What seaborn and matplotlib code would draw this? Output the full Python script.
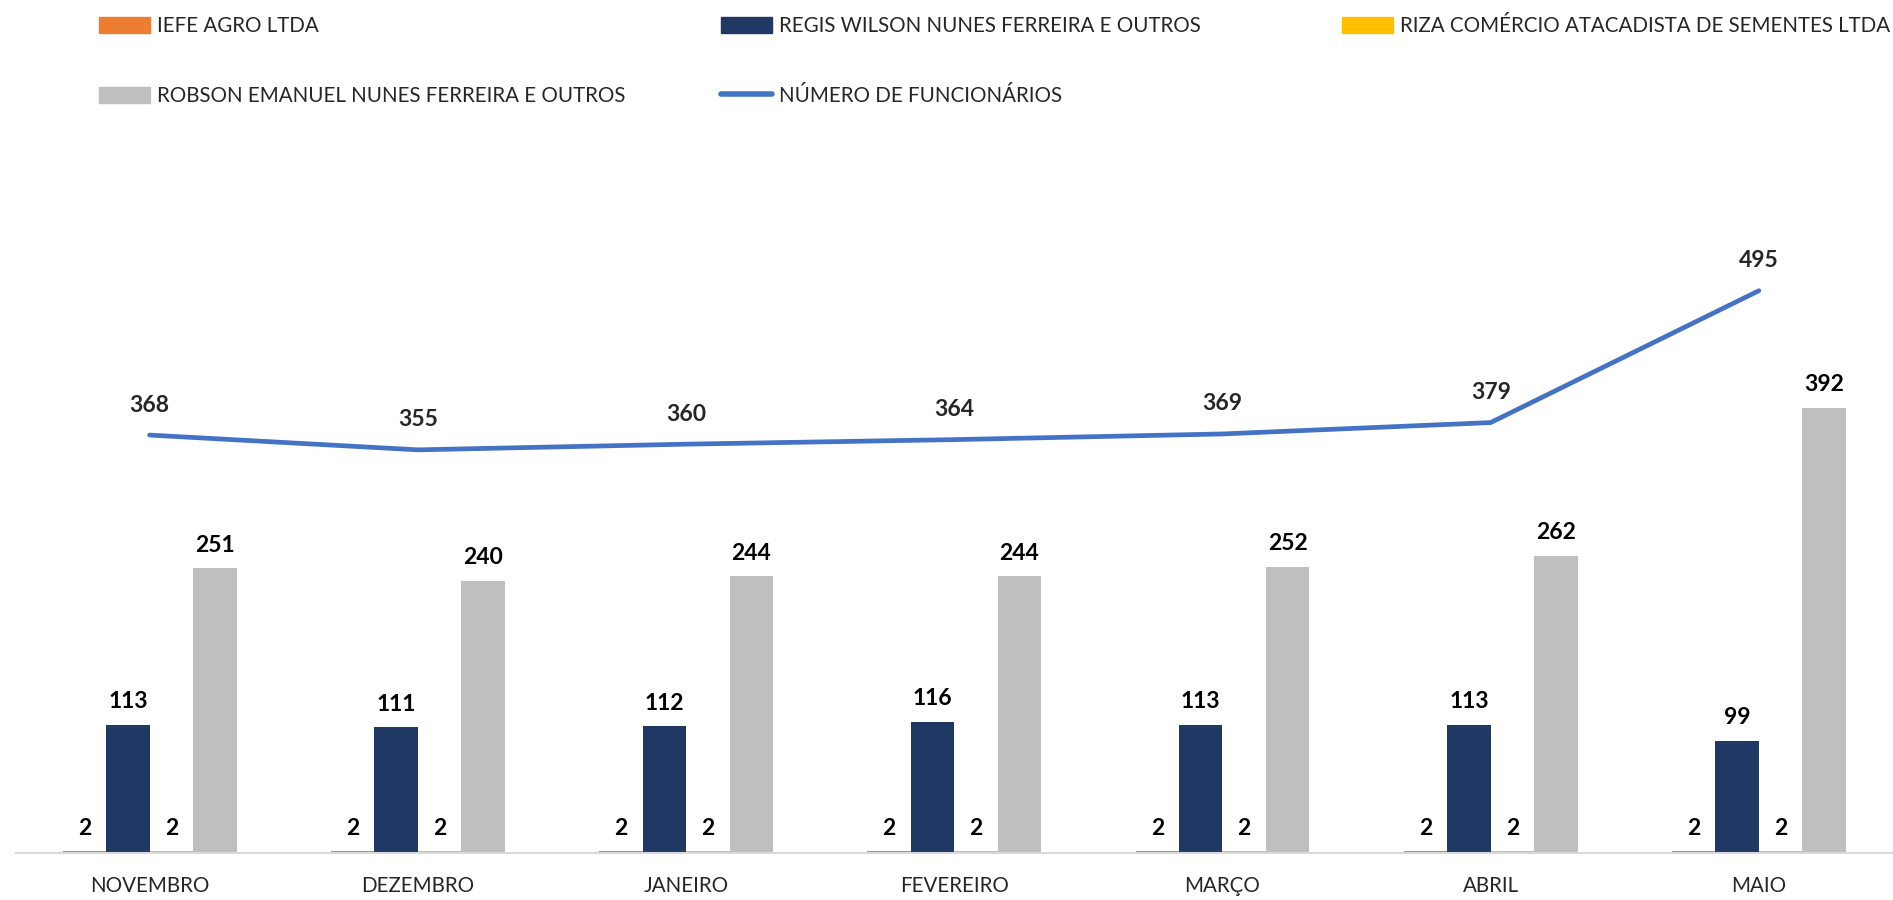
import numpy as np
import pandas as pd
import matplotlib
matplotlib.use("Agg")
import matplotlib.pyplot as plt
from matplotlib.patches import Patch
from matplotlib.lines import Line2D
import seaborn as sns

meses = ["NOVEMBRO", "DEZEMBRO", "JANEIRO", "FEVEREIRO", "MARÇO", "ABRIL", "MAIO"]
empresas = [
    "IEFE AGRO LTDA",
    "REGIS WILSON NUNES FERREIRA E OUTROS",
    "RIZA COMÉRCIO ATACADISTA DE SEMENTES LTDA",
    "ROBSON EMANUEL NUNES FERREIRA E OUTROS",
]
iefe = [2, 2, 2, 2, 2, 2, 2]
regis = [113, 111, 112, 116, 113, 113, 99]
riza = [2, 2, 2, 2, 2, 2, 2]
robson = [251, 240, 244, 244, 252, 262, 392]
funcionarios = [368, 355, 360, 364, 369, 379, 495]
linha_label = "NÚMERO DE FUNCIONÁRIOS"

cores = ["#ED7D31", "#203864", "#FFC000", "#BFBFBF"]
cor_linha = "#4472C4"

sns.set_theme(style="white")
plt.rcParams["font.family"] = ["Lato", "DejaVu Sans"]

df = pd.DataFrame({
    "mes": meses * 4,
    "empresa": np.repeat(empresas, len(meses)),
    "valor": iefe + regis + riza + robson,
})

fig = plt.figure(figsize=(18.93, 9), dpi=100)
ax = fig.add_axes([0.0082, 0.0518, 0.9918, 0.7578])

sns.barplot(data=df, x="mes", y="valor", hue="empresa", order=meses,
            hue_order=empresas, palette=cores, width=0.648, gap=0,
            linewidth=0, saturation=1, legend=False, ax=ax)

for cont in ax.containers:
    ax.bar_label(cont, padding=9, fontsize=16.5, fontweight="bold", color="black")

pos = np.arange(len(meses))
sns.lineplot(x=pos, y=funcionarios, color=cor_linha, linewidth=3.4,
             solid_capstyle="round", ax=ax)
for x, v in zip(pos, funcionarios):
    ax.annotate(str(v), (x, v), xytext=(0, 14), textcoords="offset points",
                ha="center", va="bottom", fontsize=16.5, fontweight="bold")

ax.set_xlim(-0.5, len(meses) - 0.5)
ax.set_ylim(0, 600)
ax.set_xlabel("")
ax.set_ylabel("")
ax.set_yticks([])
for s in ["left", "top", "right"]:
    ax.spines[s].set_visible(False)
ax.spines["bottom"].set_color("#D9D9D9")
ax.spines["bottom"].set_linewidth(1.5)
ax.set_xticks(pos)
ax.set_xticklabels(meses, fontsize=14.8)
ax.tick_params(axis="x", which="major", length=0, pad=16)
ax.set_xticks(np.arange(-0.5, len(meses)), minor=True)
ax.tick_params(axis="x", which="minor", length=10, width=1.5, color="#D9D9D9")

# legenda em duas linhas, colunas de largura fixa
itens = [
    (Patch(color=cores[0]), empresas[0], 99, 26),
    (Patch(color=cores[1]), empresas[1], 721, 26),
    (Patch(color=cores[2]), empresas[2], 1342, 26),
    (Patch(color=cores[3]), empresas[3], 99, 96),
    (Line2D([], [], color=cor_linha, linewidth=4, solid_capstyle="round"), linha_label, 721, 96),
]
for h, lab, px, py in itens:
    fig.legend(handles=[h], labels=[lab], loc="center left",
               bbox_to_anchor=(px / 1893, 1 - py / 900), frameon=False,
               fontsize=14.8, handlelength=2.5, handleheight=0.8,
               handletextpad=0.3, borderpad=0, borderaxespad=0)

fig.savefig("out.png", dpi=100)
